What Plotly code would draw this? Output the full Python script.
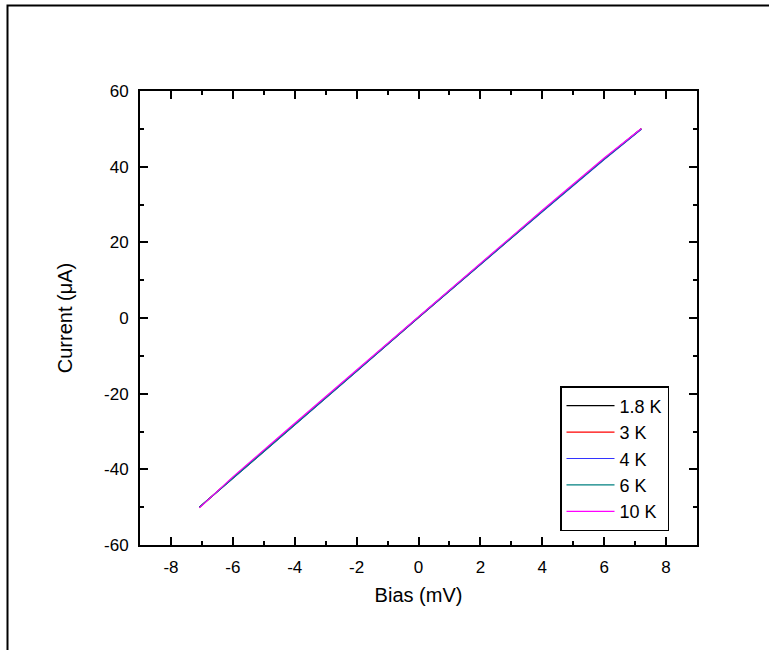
import plotly.graph_objects as go

bias_mV = [-7.08, -6.0, -4.0, -2.0, 0.0, 2.0, 4.0, 6.0, 7.20]
series_names = ["1.8 K", "3 K", "4 K", "6 K", "10 K"]
current_1p8K = [-50.0, -42.3, -28.1, -14.0, 0.2, 14.3, 28.2, 42.0, 50.0]
current_3K = [-50.1, -42.2, -28.0, -13.9, 0.3, 14.4, 28.3, 42.1, 50.0]
current_4K = [-50.0, -42.4, -28.2, -14.1, 0.1, 14.2, 28.1, 41.9, 49.9]
current_6K = [-50.0, -42.3, -28.1, -14.0, 0.2, 14.3, 28.2, 42.0, 50.0]
current_10K = [-50.2, -42.0, -27.8, -13.7, 0.5, 14.6, 28.5, 42.3, 50.1]
series_values = [current_1p8K, current_3K, current_4K, current_6K, current_10K]
colors = ["#000000", "#ff0000", "#3333ff", "#008080", "#ff00ff"]

x_ticks = [-8, -6, -4, -2, 0, 2, 4, 6, 8]
y_ticks = [-60, -40, -20, 0, 20, 40, 60]

fig = go.Figure()
for name, vals, c in zip(series_names, series_values, colors):
    fig.add_trace(go.Scatter(x=bias_mV, y=vals, mode="lines", name=name,
                             line=dict(color=c, width=1.2)))

font = "Arial, Liberation Sans, sans-serif"
axis_common = dict(
    showline=True, linecolor="black", linewidth=2, mirror="allticks",
    ticks="inside", ticklen=8, tickwidth=1.5, tickcolor="black",
    showgrid=False, zeroline=False,
    tickfont=dict(family=font, size=17, color="black"),
)
fig.update_xaxes(range=[-9, 9], tickvals=x_ticks, ticktext=[str(v) for v in x_ticks],
                 ticklabelstandoff=6,
                 minor=dict(dtick=1, tick0=-9, ticks="inside", ticklen=4, tickwidth=1.5, tickcolor="black", showgrid=False),
                 title=dict(text="Bias (mV)", font=dict(family=font, size=20, color="black"), standoff=12),
                 **axis_common)
fig.update_yaxes(range=[-60, 60], tickvals=y_ticks, ticktext=[str(v) for v in y_ticks],
                 ticklabelstandoff=6,
                 minor=dict(dtick=10, tick0=-60, ticks="inside", ticklen=4, tickwidth=1.5, tickcolor="black", showgrid=False),
                 title=dict(text="Current (μA)", font=dict(family=font, size=20, color="black"), standoff=26),
                 **axis_common)

fig.add_shape(type="rect", xref="paper", yref="paper",
              x0=(7.5 - 140) / 557, x1=1.3, y0=-0.4, y1=1 + (91 - 5.5) / 454,
              line=dict(color="black", width=2), fillcolor="rgba(0,0,0,0)", layer="below")

fig.update_layout(
    width=769, height=650,
    margin=dict(l=140, r=72, t=91, b=105),
    paper_bgcolor="white", plot_bgcolor="white",
    showlegend=True,
    legend=dict(x=(560 - 140) / 557, y=1 - (386 - 91) / 454, xanchor="left", yanchor="top",
                bordercolor="black", borderwidth=1.5, bgcolor="white",
                font=dict(family=font, size=18, color="black"), itemwidth=48,
                tracegroupgap=0),
)

fig.write_html("out.html")
